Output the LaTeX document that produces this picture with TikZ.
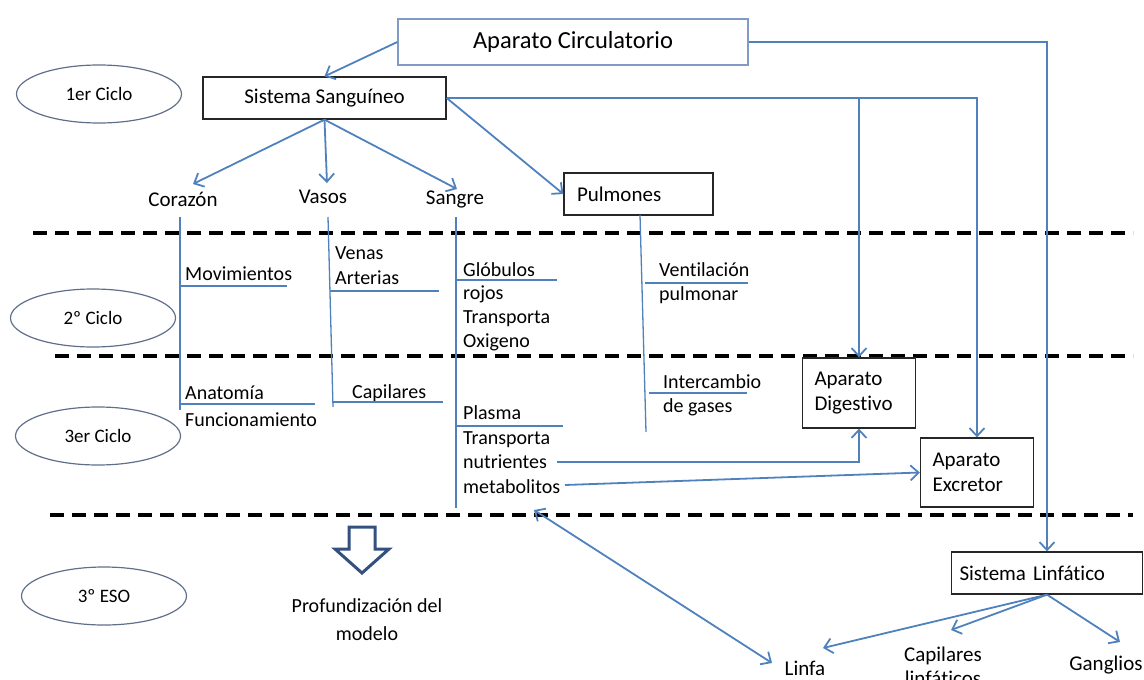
\documentclass[tikz,border=0pt]{standalone}
\usepackage{fontspec}
\setmainfont{Carlito}[Ligatures=NoCommon]
\usetikzlibrary{arrows.meta,shapes.geometric}
\definecolor{cblue}{HTML}{4F81BD}
\definecolor{cell}{HTML}{5F6F8A}
\definecolor{cac}{HTML}{7F9BC6}
\definecolor{cbig}{HTML}{34507F}
\begin{document}
\begin{tikzpicture}[x=1pt,y=-1pt,
  conn/.style={draw=cblue, line width=1.8pt},
  arr/.style={conn, -{Straight Barb[length=8pt,width=15pt]}},
  darr/.style={conn, {Straight Barb[length=8pt,width=15pt]}-{Straight Barb[length=8pt,width=15pt]}},
  tline/.style={draw=cblue, line width=1.3pt},
  sepline/.style={draw=black, line width=3.2pt, dash pattern=on 14pt off 8pt},
  box/.style={draw=black!85, line width=1.3pt, fill=white, inner sep=0pt, font=\fontsize{21}{24.5}\selectfont},
  ell/.style={ellipse, draw=cell, line width=1.2pt, minimum width=165pt, minimum height=58pt, inner sep=0pt, font=\fontsize{19}{22}\selectfont},
  lbl/.style={inner sep=0pt, font=\fontsize{20}{24}\selectfont, anchor=base west},
  toplbl/.style={inner sep=0pt, font=\fontsize{21}{24}\selectfont},
]
\useasboundingbox (0,0) rectangle (1144,680);

% separators
\draw[sepline] (33,233) -- (1133,233);
\draw[sepline] (55,356) -- (1133,356);
\draw[sepline] (50,515) -- (1133,515);

% ellipses
\node[ell] (c1) at (99,94) {1er Ciclo};
\node[ell] (c2) at (93,318) {2º Ciclo};
\node[ell] (c3) at (98,436) {3er Ciclo};
\node[ell] (c4) at (104,596) {3º ESO};

% boxes
\node[box, draw=cac, minimum width=350pt, minimum height=46pt, font=\fontsize{24.5}{27}\selectfont] (ac) at (573,42) {Aparato Circulatorio};
\node[box, minimum width=243pt, minimum height=42pt] (ss) at (324.5,98) {Sistema Sanguíneo};
\node[box, minimum width=149pt, minimum height=42pt, text width=123pt, align=left] (pul) at (638.5,194) {Pulmones};
\node[box, minimum width=113pt, minimum height=70pt, text width=89pt, align=left] (dig) at (859,393) {Aparato\\Digestivo};
\node[box, minimum width=113pt, minimum height=69pt, text width=89pt, align=left] (exc) at (977,472.5) {Aparato\\Excretor};
\node[box, minimum width=191pt, minimum height=42pt, text width=175pt, align=left] (lin) at (1047,573) {Sistema Linfático};

% first-level labels
\node[toplbl] (cor) at (183,199) {Corazón};
\node[toplbl] (vas) at (323,197) {Vasos};
\node[toplbl] (san) at (455,199) {Sangre};

% connectors top
\draw[arr] (ac.west) -- (ss.north);
\draw[arr] (ss.south) -- (193,184);
\draw[arr] (ss.south) -- (327,183);
\draw[arr] (ss.south) -- (457,189);
\draw[arr] (ss.east) -- (pul.west);
\draw[arr] (ss.east) -- (ss.east -| dig.north) -- (dig.north);
\draw[arr] (ss.east) -- (ss.east -| exc.north) -- (exc.north);
\draw[arr] (ac.east) -- (ac.east -| lin.north) -- (lin.north);

% stems
\draw[tline] (180,217) -- (180,410);
\draw[tline] (328,217) -- (333,407);
\draw[tline] (456,217) -- (456,508);
\draw[tline] (640,215) -- (646,432);

% Corazon column
\node[lbl] (mov) at (185,280) {Movimientos};
\draw[tline] (180,286) -- (287,286);
\node[lbl] (ana) at (185,399) {Anatomía};
\draw[tline] (180,404) -- (315,404);
\node[lbl] (fun) at (185,426) {Funcionamiento};

% Vasos column
\node[lbl] (ven) at (335,259) {Venas};
\node[lbl] (art) at (335,284) {Arterias};
\draw[tline] (330,291) -- (439,291);
\node[lbl] (cap) at (352,398) {Capilares};
\draw[tline] (333,402) -- (443,402);

% Sangre column
\node[lbl] (glo) at (463,276) {Glóbulos};
\draw[tline] (456,280) -- (557,280);
\node[lbl] (roj) at (463,299) {rojos};
\node[lbl] (tra1) at (463,323) {Transporta};
\node[lbl] (oxi) at (463,347) {Oxigeno};
\node[lbl] (pla) at (463,419) {Plasma};
\draw[tline] (456,426) -- (563,426);
\node[lbl] (tra2) at (463,444) {Transporta};
\node[lbl] (nut) at (463,468) {nutrientes};
\node[lbl] (met) at (463,493) {metabolitos};

% Pulmones column
\node[lbl] (ven2) at (659,276) {Ventilación};
\draw[tline] (645,283) -- (748,283);
\node[lbl] (pulm) at (659,300) {pulmonar};
\node[lbl] (int) at (663,388) {Intercambio};
\draw[tline] (649,393) -- (747,393);
\node[lbl] (gas) at (663,412) {de gases};

% arrows to organs
\coordinate (nutE) at (557,462);
\coordinate (metE) at (565,485);
\draw[arr] (nutE) -- (nutE -| dig.south) -- (dig.south);
\draw[arr] (metE) -- (exc.west);

% lymphatic
\node[toplbl] (linfa) at (805,668) {Linfa};
\node[toplbl, align=center] (capl) at (943,666) {Capilares\\linfáticos};
\node[toplbl] (gan) at (1106,665) {Ganglios};
\draw[arr] (lin.south) -- (823,648);
\draw[arr] (lin.south) -- (951,630);
\draw[arr] (lin.south) -- (1120,642);
\coordinate (sanB) at (534,510);
\draw[darr] (sanB) -- (772,663);

% deepening arrow
\draw[draw=cbig, line width=3pt, line join=miter, fill=white]
  (349,527) -- (375,527) -- (375,549) -- (389,549) -- (362,573) -- (335,549) -- (349,549) -- cycle;
\node[toplbl, align=center, font=\fontsize{20}{28}\selectfont] (prof) at (367,620) {Profundización del\\modelo};
\end{tikzpicture}
\end{document}
